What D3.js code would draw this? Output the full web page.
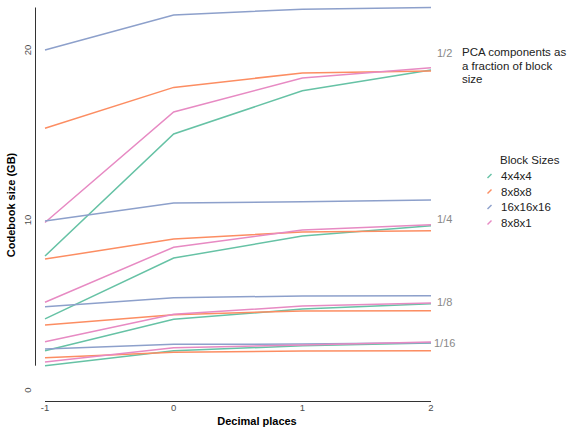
<!DOCTYPE html>
<html>
<head>
<meta charset="utf-8">
<script src="https://d3js.org/d3.v7.min.js"></script>
<style>
  body { margin: 0; background: #fff; }
  svg { font-family: "Liberation Sans", Arial, sans-serif; }
</style>
</head>
<body>
<svg id="chart" width="567" height="430"></svg>
<script>
// decimal places on the x axis
var decimals = [-1, 0, 1, 2];
var blockSizes = ["4x4x4", "8x8x8", "16x16x16", "8x8x1"];
var fractions = ["1/2", "1/4", "1/8", "1/16"];

// codebook size (GB), one array per block size, per fraction
var half = {
  "4x4x4":    [7.88, 15.06, 17.6, 18.82],
  "8x8x8":    [15.4, 17.8, 18.65, 18.76],
  "16x16x16": [20.0, 22.06, 22.4, 22.5],
  "8x8x1":    [9.85, 16.35, 18.35, 18.96]
};
var quarter = {
  "4x4x4":    [4.18, 7.76, 9.06, 9.66],
  "8x8x8":    [7.7, 8.88, 9.3, 9.37],
  "16x16x16": [9.94, 11.0, 11.08, 11.18],
  "8x8x1":    [5.16, 8.4, 9.41, 9.72]
};
var eighth = {
  "4x4x4":    [2.31, 4.16, 4.76, 5.08],
  "8x8x8":    [3.82, 4.43, 4.65, 4.66],
  "16x16x16": [4.9, 5.43, 5.53, 5.55],
  "8x8x1":    [2.84, 4.45, 4.94, 5.12]
};
var sixteenth = {
  "4x4x4":    [1.43, 2.31, 2.6, 2.76],
  "8x8x8":    [1.9, 2.22, 2.29, 2.31],
  "16x16x16": [2.41, 2.69, 2.7, 2.78],
  "8x8x1":    [1.65, 2.49, 2.65, 2.82]
};
var groups = [half, quarter, eighth, sixteenth];
// where the fraction labels sit (GB)
var fractionLabelY = [19.8, 10.05, 5.2, 2.75];
var yTicks = [0, 10, 20];

var colors = ["#66C2A5", "#FC8D62", "#8DA0CB", "#E78AC3"];

var svg = d3.select("#chart");

var x = d3.scaleLinear().domain([-1, 2]).range([45, 431]);
var y = d3.scaleLinear().domain([0, 20]).range([390, 50]);
var color = d3.scaleOrdinal().domain(blockSizes).range(colors);

var line = d3.line()
  .x(function(d, i) { return x(decimals[i]); })
  .y(function(d) { return y(d); });

// range frame axes
var allVals = [];
groups.forEach(function(g) {
  blockSizes.forEach(function(b) { allVals = allVals.concat(g[b]); });
});

svg.append("line")
  .attr("x1", 35.5).attr("x2", 35.5)
  .attr("y1", y(d3.min(allVals))).attr("y2", y(d3.max(allVals)))
  .attr("stroke", "#333").attr("stroke-width", 1);

svg.append("line")
  .attr("x1", x(d3.min(decimals))).attr("x2", x(d3.max(decimals)))
  .attr("y1", 401.5).attr("y2", 401.5)
  .attr("stroke", "#333").attr("stroke-width", 1);

svg.selectAll(".ytick")
  .data(yTicks)
  .enter().append("text")
  .attr("transform", function(d) { return "translate(30.5," + y(d) + ") rotate(-90)"; })
  .attr("text-anchor", "middle")
  .attr("font-size", 9.5)
  .attr("fill", "#4d4d4d")
  .text(function(d) { return d; });

svg.selectAll(".xtick")
  .data(decimals)
  .enter().append("text")
  .attr("x", function(d) { return x(d); })
  .attr("y", 410.5)
  .attr("text-anchor", "middle")
  .attr("font-size", 9.5)
  .attr("fill", "#4d4d4d")
  .text(function(d) { return d; });

svg.append("text")
  .attr("transform", "translate(15,205) rotate(-90)")
  .attr("text-anchor", "middle")
  .attr("font-size", 11)
  .attr("font-weight", "bold")
  .text("Codebook size (GB)");

svg.append("text")
  .attr("x", 257).attr("y", 425)
  .attr("text-anchor", "middle")
  .attr("font-size", 11)
  .attr("font-weight", "bold")
  .text("Decimal places");

// lines
groups.forEach(function(g) {
  blockSizes.forEach(function(b) {
    svg.append("path")
      .attr("d", line(g[b]))
      .attr("fill", "none")
      .attr("stroke", color(b))
      .attr("stroke-width", 1.5);
  });
});

// fraction labels
svg.selectAll(".frac")
  .data(fractions)
  .enter().append("text")
  .attr("x", function(d, i) { return i == 3 ? 434 : 437; })
  .attr("y", function(d, i) { return y(fractionLabelY[i]) + 4; })
  .attr("font-size", 11)
  .attr("fill", "#888")
  .text(function(d) { return d; });

// annotation
["PCA components as", "a fraction of block", "size"].forEach(function(t, i) {
  svg.append("text")
    .attr("x", 462).attr("y", 56 + i * 13.5)
    .attr("font-size", 11.5)
    .attr("fill", "#222")
    .text(t);
});

// legend
svg.append("text")
  .attr("x", 500).attr("y", 164)
  .attr("font-size", 11.5)
  .attr("fill", "#222")
  .text("Block Sizes");

var leg = svg.selectAll(".leg")
  .data(blockSizes)
  .enter().append("g")
  .attr("transform", function(d, i) { return "translate(0," + (176 + i * 15.5) + ")"; });

leg.append("line")
  .attr("x1", 487.5).attr("x2", 491.5)
  .attr("y1", 2).attr("y2", -2)
  .attr("stroke", function(d) { return color(d); })
  .attr("stroke-width", 1.5);

leg.append("text")
  .attr("x", 501).attr("y", 4)
  .attr("font-size", 11.5)
  .attr("fill", "#222")
  .text(function(d) { return d; });
</script>
</body>
</html>
